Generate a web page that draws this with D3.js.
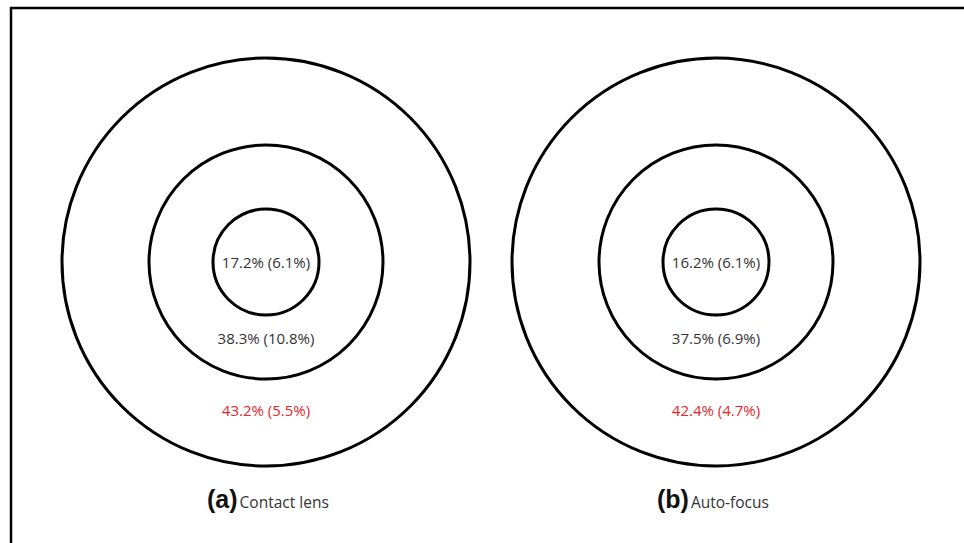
<!doctype html>
<html>
<head>
<meta charset="utf-8">
<script src="https://cdnjs.cloudflare.com/ajax/libs/d3/7.8.5/d3.min.js"></script>
<style>
  body { margin: 0; background: #fff; }
  svg { display: block; }
  .lbl { font-family: "Open Sans", sans-serif; font-size: 15px; fill: #333; }
  .cap { font-family: "Open Sans", sans-serif; font-size: 15.5px; fill: #333; }
  .letter { font-family: "Liberation Sans", Arial, sans-serif; font-weight: bold; font-size: 25px; fill: #111; }
</style>
</head>
<body>
<svg id="chart" width="964" height="543"></svg>
<script>
// panels and ring values (inner -> outer), mean (sd)
var panels = ["Contact lens", "Auto-focus"];
var letters = ["(a)", "(b)"];
var innerVals = ["17.2% (6.1%)", "16.2% (6.1%)"];
var middleVals = ["38.3% (10.8%)", "37.5% (6.9%)"];
var outerVals = ["43.2% (5.5%)", "42.4% (4.7%)"];
var rings = ["inner", "middle", "outer"];

var W = 964, H = 543, cy = 262;
var svg = d3.select("#chart");

// frame (cut off at right and bottom like the source)
svg.append("path")
  .attr("d", "M11," + H + " V8 H" + W)
  .attr("fill", "none").attr("stroke", "#000").attr("stroke-width", 2.5);

var x = d3.scalePoint().domain(panels).range([266, 716]);
var r = d3.scaleOrdinal().domain(rings).range([53, 117, 204]);
var labelDy = d3.scaleOrdinal().domain(rings).range([6, 82, 154]);

var rows = panels.map(function(p, i) {
  return { panel: p, letter: letters[i], vals: [innerVals[i], middleVals[i], outerVals[i]] };
});

var g = svg.selectAll("g.panel").data(rows).enter().append("g")
  .attr("class", "panel")
  .attr("transform", function(d) { return "translate(" + x(d.panel) + "," + cy + ")"; });

g.selectAll("circle").data(rings).enter().append("circle")
  .attr("r", function(d) { return r(d); })
  .attr("fill", "none").attr("stroke", "#000").attr("stroke-width", 3);

g.selectAll("text.lbl").data(function(d) {
    return rings.map(function(k, j) { return { ring: k, text: d.vals[j] }; });
  }).enter().append("text")
  .attr("class", "lbl")
  .attr("text-anchor", "middle")
  .attr("y", function(d) { return labelDy(d.ring); })
  .style("fill", function(d) { return d.ring === "outer" ? "#e8262b" : "#333"; })
  .text(function(d) { return d.text; });

// captions
var cap = g.append("text").attr("y", 246).attr("x", -59);
cap.append("tspan").attr("class", "letter").text(function(d) { return d.letter; });
cap.append("tspan").attr("class", "cap").attr("dx", 2).text(function(d) { return d.panel; });
</script>
</body>
</html>
